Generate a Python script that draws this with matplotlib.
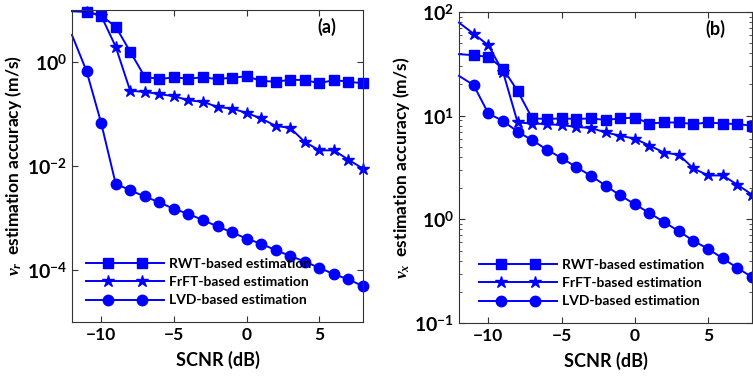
import numpy as np
import matplotlib
matplotlib.use('Agg')
import matplotlib.pyplot as plt
from matplotlib.ticker import FixedLocator, FuncFormatter, LogLocator, NullLocator
from matplotlib.legend_handler import HandlerLine2D

plt.rcParams['font.family'] = ['Lato', 'DejaVu Sans']
plt.rcParams['font.weight'] = 'bold'
plt.rcParams['mathtext.fontset'] = 'custom'
plt.rcParams['mathtext.rm'] = 'Lato'
plt.rcParams['mathtext.bf'] = 'Lato:bold'
plt.rcParams['mathtext.it'] = 'Liberation Serif:italic'

scnr = np.arange(-12, 9)

# panel (a): nu_r
rwt_a = [9.5, 9.3, 7.8, 4.8, 1.58, 0.52, 0.47, 0.506, 0.48, 0.506, 0.47, 0.5,
         0.53, 0.435, 0.417, 0.455, 0.45, 0.39, 0.45, 0.417, 0.39]
frft_a = [9.5, 9.3, 7.8, 1.98, 0.279, 0.267, 0.241, 0.22, 0.184, 0.171, 0.137,
          0.127, 0.105, 0.082, 0.059, 0.054, 0.029, 0.020, 0.020, 0.0132, 0.0089]
lvd_a = [3.3, 0.67, 0.068, 0.0046, 0.0034, 0.0026, 0.002, 0.0015, 0.0012,
         0.00091, 0.00069, 0.00053, 0.0004, 0.00032, 0.00024, 0.000187,
         0.000145, 0.00011, 0.000083, 0.000066, 0.000049]

# panel (b): nu_x
rwt_b = [39.2, 38.3, 36.9, 28.5, 17.3, 9.4, 9.3, 9.4, 9.3, 9.4, 9.1, 9.4, 9.6,
         8.4, 8.6, 8.6, 8.3, 8.6, 8.4, 8.3, 8.0]
frft_b = [78.9, 61.6, 47.8, 26.5, 8.6, 8.4, 8.3, 8.1, 7.8, 7.6, 6.9, 6.4, 6.0,
          5.15, 4.4, 4.2, 3.1, 2.65, 2.65, 2.16, 1.73]
lvd_b = [24.2, 19.7, 10.5, 8.9, 7.0, 5.8, 4.7, 3.9, 3.2, 2.63, 2.12, 1.70,
         1.40, 1.15, 0.94, 0.77, 0.62, 0.52, 0.42, 0.34, 0.277]

labels = ['RWT-based estimation', 'FrFT-based estimation', 'LVD-based estimation']
blue = '#0000ff'


class LongLineHandler(HandlerLine2D):
    # line across the full handle, two markers set in from the ends
    def create_artists(self, legend, orig_handle, xdescent, ydescent,
                       width, height, fontsize, trans):
        arts = super().create_artists(legend, orig_handle, xdescent, ydescent,
                                      width, height, fontsize, trans)
        line = arts[0]
        x0 = -xdescent
        y0 = line.get_ydata()[0]
        line.set_data([x0, x0 + 0.28 * width, x0 + 0.72 * width, x0 + width],
                      [y0] * 4)
        line.set_markevery([1, 2])
        return arts


def exp_fmt(v, pos):
    return r'$\mathbf{10}^{\mathrm{%d}}$' % int(round(np.log10(v)))


def draw(ax, series, ylim, majors, minors, ylabel, tag, leg_anchor):
    styles = [('s', 7.5), ('*', 9), ('o', 7.5)]
    for y, (m, ms), lab in zip(series, styles, labels):
        ax.plot(scnr, y, color=blue, lw=1.4, marker=m, ms=ms, mfc=blue, mec=blue,
                markevery=slice(1, None), label=lab, clip_on=False)
    ax.set_yscale('log')
    ax.set_xlim(-12, 8)
    ax.set_ylim(*ylim)
    ax.set_xticks([-10, -5, 0, 5])
    ax.yaxis.set_major_locator(FixedLocator(majors))
    ax.yaxis.set_major_formatter(FuncFormatter(exp_fmt))
    if minors:
        ax.yaxis.set_minor_locator(LogLocator(base=10, subs=np.arange(2, 10)))
    else:
        ax.yaxis.set_minor_locator(NullLocator())
    ax.tick_params(which='both', direction='in', top=True, right=True,
                   colors='#333333', labelcolor='black')
    ax.tick_params(axis='x', labelsize=12.5)
    ax.tick_params(axis='y', labelsize=14)
    ax.tick_params(which='major', length=4)
    ax.tick_params(which='minor', length=2.5)
    for s in ax.spines.values():
        s.set_color('#333333')
    ax.set_xlabel('SCNR (dB)', fontsize=13, fontweight='bold', labelpad=6)
    ax.set_ylabel(ylabel, fontsize=12.5, fontweight='bold', labelpad=2)
    ax.text(0.875, 0.945, tag, transform=ax.transAxes, ha='center', va='center',
            fontsize=13, fontweight='bold')
    ax.legend(loc='lower left', bbox_to_anchor=leg_anchor, frameon=False,
              fontsize=10, handlelength=5.6, handletextpad=0.4, labelspacing=0.45,
              borderpad=0, borderaxespad=0,
              handler_map={plt.Line2D: LongLineHandler(numpoints=2)})


fig = plt.figure(figsize=(7.53, 3.80), dpi=100)
ax1 = fig.add_axes([0.0956, 0.1526, 0.3865, 0.8211])
ax2 = fig.add_axes([0.6096, 0.1500, 0.3891, 0.8184])

draw(ax1, [rwt_a, frft_a, lvd_a], (1e-5, 1e1), [1e-4, 1e-2, 1e0], False,
     r'$\nu_r$  estimation accuracy (m/s)', '(a)', (0.048, 0.05))
draw(ax2, [rwt_b, frft_b, lvd_b], (1e-1, 1e2), [1e-1, 1e0, 1e1, 1e2], True,
     r'$\nu_x$  estimation accuracy (m/s)', '(b)', (0.068, 0.05))

fig.savefig('out.png', dpi=100)
